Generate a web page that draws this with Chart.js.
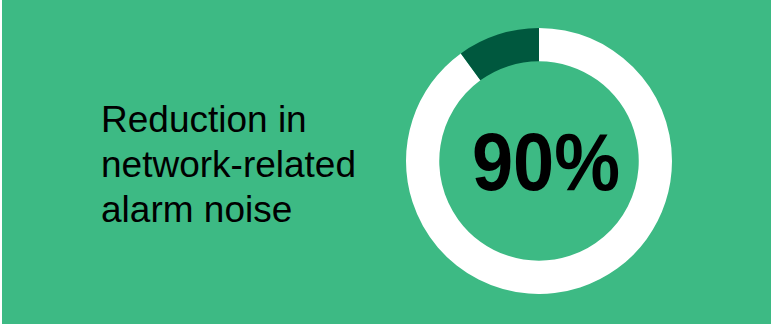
<!DOCTYPE html>
<html>
<head>
<meta charset="utf-8">
<script src="https://cdn.jsdelivr.net/npm/chart.js@4"></script>
<style>
  html, body { margin: 0; padding: 0; background: #ffffff; }
  #panel {
    position: absolute; left: 2px; top: 0; width: 769px; height: 324px;
    background: #3dba84; overflow: hidden;
  }
  #label {
    position: absolute; left: 99px; top: 97px;
    font-family: "Liberation Sans", Arial, sans-serif;
    font-size: 37px; line-height: 45px; color: #000;
  }
  #chartBox {
    position: absolute; left: 404px; top: 28px; width: 266px; height: 266px;
  }
  #value {
    position: absolute; left: 411px; top: 122px; width: 266px; text-align: center;
    font-family: "Liberation Sans", Arial, sans-serif; font-weight: bold;
    font-size: 74px; line-height: 80px; color: #000;
    transform: scaleY(1.1);
  }
</style>
</head>
<body>
<div id="panel">
  <div id="label">Reduction in<br>network-related<br>alarm noise</div>
  <div id="chartBox"><canvas id="donut"></canvas></div>
  <div id="value">90%</div>
</div>
<script>
const categories = ['Reduced', 'Remaining'];
const values = [90, 10];
const sliceColors = ['#ffffff', '#00583e'];

const ctx = document.getElementById('donut').getContext('2d');
new Chart(ctx, {
    type: 'doughnut',
    data: {
        labels: categories,
        datasets: [{
            data: values,
            backgroundColor: sliceColors,
            borderWidth: 0
        }]
    },
    options: {
        responsive: true,
        maintainAspectRatio: false,
        animation: false,
        cutout: '75%',
        layout: { padding: 0 },
        plugins: {
            legend: { display: false },
            tooltip: { enabled: false }
        }
    }
});
</script>
</body>
</html>
